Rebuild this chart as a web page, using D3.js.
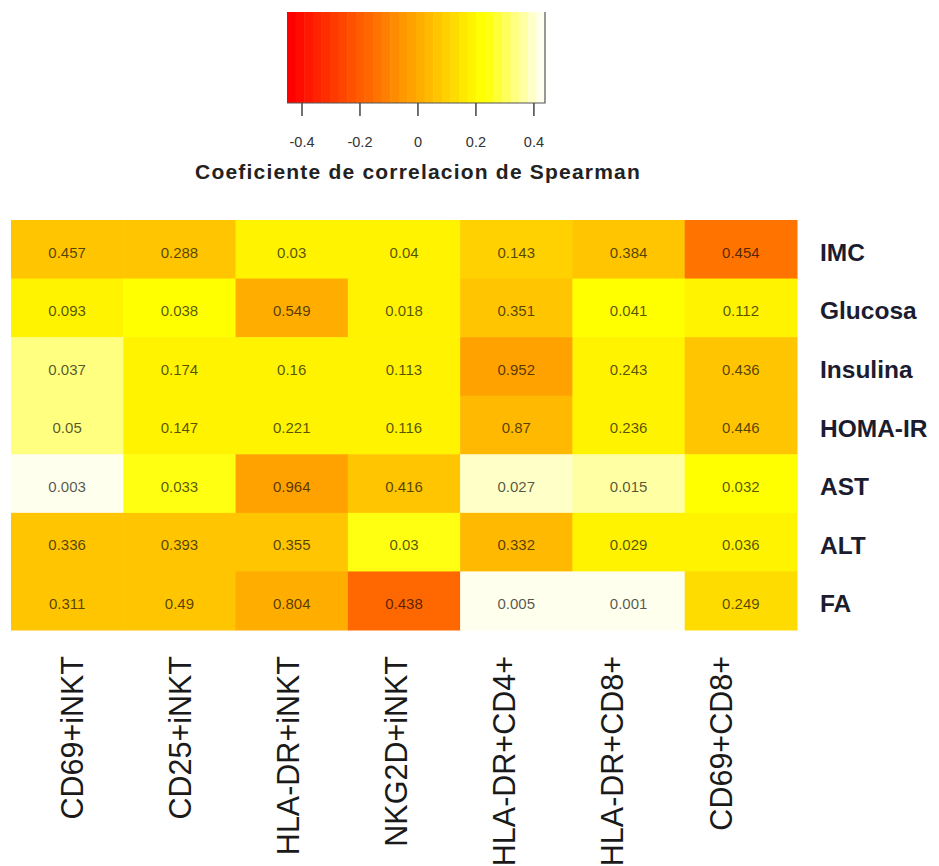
<!DOCTYPE html>
<html>
<head>
<meta charset="utf-8">
<script src="https://cdn.jsdelivr.net/npm/d3@7"></script>
<style>
  html, body { margin: 0; padding: 0; background: #fff; }
  svg { display: block; font-family: "Liberation Sans", Arial, sans-serif; }
</style>
</head>
<body>
<svg id="chart" width="939" height="866"></svg>
<script>
// Immune cell populations (columns) and metabolic / hepatic variables (rows)
const cellTypes = ["CD69+iNKT", "CD25+iNKT", "HLA-DR+iNKT", "NKG2D+iNKT", "HLA-DR+CD4+", "HLA-DR+CD8+", "CD69+CD8+"];
const variables = ["IMC", "Glucosa", "Insulina", "HOMA-IR", "AST", "ALT", "FA"];

// Spearman rho per cell (row = variable, column = cell type); drives the fill colour
const rho = [
  [0.07, 0.07, 0.19, 0.19, 0.10, 0.07, -0.14],
  [0.19, 0.22, 0.01, 0.19, 0.07, 0.22, 0.19],
  [0.34, 0.19, 0.19, 0.19, -0.02, 0.19, 0.07],
  [0.34, 0.19, 0.19, 0.19, 0.04, 0.19, 0.07],
  [0.43, 0.25, -0.02, 0.07, 0.40, 0.37, 0.22],
  [0.07, 0.07, 0.07, 0.25, 0.04, 0.19, 0.19],
  [0.07, 0.07, 0.01, -0.17, 0.43, 0.43, 0.13]
];

// p-values printed inside each cell
const pValues = [
  ["0.457", "0.288", "0.03", "0.04", "0.143", "0.384", "0.454"],
  ["0.093", "0.038", "0.549", "0.018", "0.351", "0.041", "0.112"],
  ["0.037", "0.174", "0.16", "0.113", "0.952", "0.243", "0.436"],
  ["0.05", "0.147", "0.221", "0.116", "0.87", "0.236", "0.446"],
  ["0.003", "0.033", "0.964", "0.416", "0.027", "0.015", "0.032"],
  ["0.336", "0.393", "0.355", "0.03", "0.332", "0.029", "0.036"],
  ["0.311", "0.49", "0.804", "0.438", "0.005", "0.001", "0.249"]
];

// Colour key range and tick labels
const rhoRange = [-0.45, 0.44];
const keyTicks = [-0.4, -0.2, 0, 0.2, 0.4];
const keyTitle = "Coeficiente de correlacion de Spearman";
const nColors = 30;

// heat.colors-style palette: red -> yellow hues, then yellow fading to cream
function heatColors(n) {
  const j = Math.floor(n / 4), i = n - j;
  const out = [];
  for (let k = 0; k < i; k++) {
    const h = i > 1 ? (k / (i - 1)) * 60 : 0;
    out.push(d3.hsl(h, 1, 0.5).formatHex());
  }
  for (let m = 0; m < j; m++) {
    const s0 = 1 - 1 / (2 * j), s1 = 1 / (2 * j);
    const s = j > 1 ? s0 + (s1 - s0) * m / (j - 1) : s0;
    // hsv(60deg, s, 1) -> rgb(255, 255, 255*(1-s))
    const b = Math.round(255 * (1 - s));
    out.push(d3.rgb(255, 255, b).formatHex());
  }
  return out;
}
const palette = heatColors(nColors);
const color = d3.scaleQuantize().domain(rhoRange).range(palette);

const svg = d3.select("#chart");

// ---- Colour key ----
const keyX = d3.scaleLinear().domain(rhoRange).range([287, 545]);
const keyTop = 12, keyBottom = 103;
const key = svg.append("g");
const step = (rhoRange[1] - rhoRange[0]) / nColors;
key.selectAll("rect.band")
  .data(palette)
  .join("rect")
  .attr("class", "band")
  .attr("x", (d, i) => keyX(rhoRange[0] + i * step))
  .attr("y", keyTop)
  .attr("width", (d, i) => keyX(rhoRange[0] + (i + 1) * step) - keyX(rhoRange[0] + i * step) + 0.5)
  .attr("height", keyBottom - keyTop)
  .attr("fill", d => d);
key.append("path")
  .attr("d", `M${keyX.range()[1]},${keyTop}V${keyBottom}H${keyX.range()[0]}`)
  .attr("fill", "none").attr("stroke", "#555").attr("stroke-width", 1.2);

const keyAxis = d3.axisBottom(keyX)
  .tickValues(keyTicks)
  .tickFormat(d => d === 0 ? "0" : String(d))
  .tickSize(13).tickPadding(21);
const ka = key.append("g").attr("transform", `translate(0,${keyBottom})`).call(keyAxis);
ka.select(".domain").remove();
ka.selectAll(".tick line").attr("stroke", "#444").attr("stroke-width", 1.5);
ka.selectAll(".tick text").attr("font-size", 14.5).attr("fill", "#333")
  .attr("font-family", "Liberation Sans, Arial, sans-serif");

key.append("text")
  .attr("x", 418).attr("y", 179)
  .attr("text-anchor", "middle")
  .attr("font-size", 21).attr("font-weight", "bold")
  .attr("letter-spacing", 1.2)
  .attr("fill", "#222")
  .text(keyTitle);

// ---- Heatmap ----
const x = d3.scaleBand().domain(cellTypes).range([11, 797]);
const y = d3.scaleBand().domain(variables).range([220, 630]);

const cells = [];
variables.forEach((v, r) => cellTypes.forEach((c, k) => cells.push({ v, c, rho: rho[r][k], p: pValues[r][k] })));

const hm = svg.append("g");
hm.selectAll("rect")
  .data(cells)
  .join("rect")
  .attr("x", d => x(d.c))
  .attr("y", d => y(d.v))
  .attr("width", x.bandwidth() + 0.5)
  .attr("height", y.bandwidth() + 0.5)
  .attr("fill", d => color(d.rho));

hm.selectAll("text")
  .data(cells)
  .join("text")
  .attr("x", d => x(d.c) + x.bandwidth() / 2)
  .attr("y", d => y(d.v) + y.bandwidth() / 2 + 3)
  .attr("dy", "0.35em")
  .attr("text-anchor", "middle")
  .attr("font-size", 15)
  .attr("fill", "#000").attr("fill-opacity", 0.68)
  .text(d => d.p);

// Row labels on the right
svg.append("g").selectAll("text")
  .data(variables)
  .join("text")
  .attr("x", 820)
  .attr("y", d => y(d) + y.bandwidth() / 2 + 3)
  .attr("dy", "0.35em")
  .attr("font-size", 24.5).attr("font-weight", "bold")
  .attr("fill", "#1c1c30")
  .text(d => d);

// Column labels, rotated, below the grid
const xLab = d3.scaleBand().domain(cellTypes).range([18, 775]);
svg.append("g").selectAll("text")
  .data(cellTypes)
  .join("text")
  .attr("transform", d => `translate(${xLab(d) + xLab.bandwidth() / 2},656) rotate(-90)`)
  .attr("text-anchor", "end")
  .attr("dy", "0.35em")
  .attr("font-size", 30.5)
  .attr("fill", "#1a1a1a")
  .text(d => d);
</script>
</body>
</html>
